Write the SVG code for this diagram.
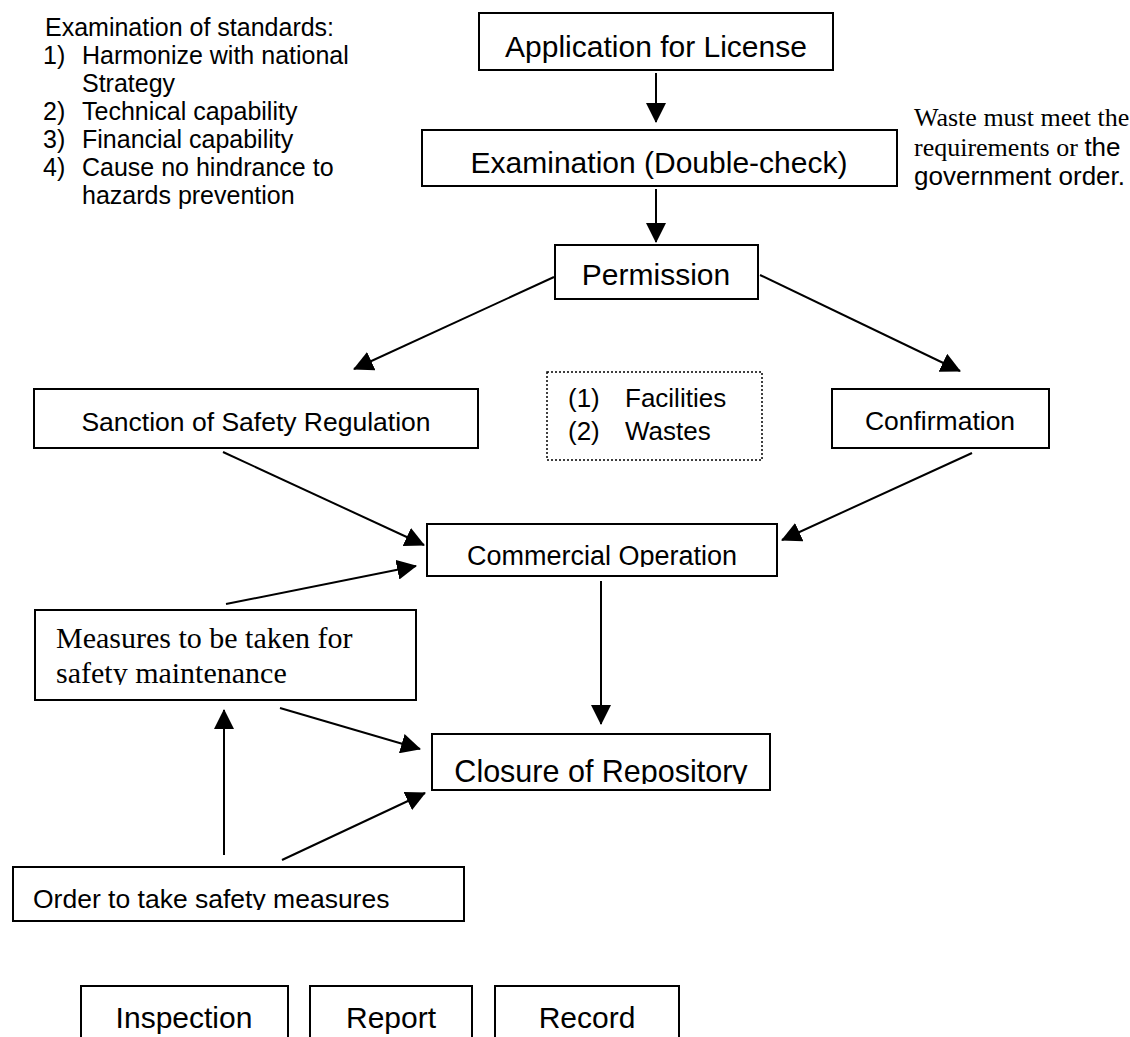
<svg xmlns="http://www.w3.org/2000/svg" width="1130" height="1037" viewBox="0 0 1130 1037">
<style>
.box{fill:#fff;stroke:#000;stroke-width:2}
.dot{fill:#fff;stroke:#000;stroke-width:1.5;stroke-dasharray:2 2}
.t{font-family:"Liberation Sans",Arial,sans-serif;fill:#000}
.s{font-family:"Liberation Serif","Times New Roman",serif;fill:#000}
.ln{stroke:#000;stroke-width:2;fill:none;marker-end:url(#ah)}
</style>
<defs>
<marker id="ah" markerUnits="userSpaceOnUse" markerWidth="20" markerHeight="20" refX="19" refY="10" orient="auto"><path d="M0,0 L20,10 L0,20 z" fill="#000"/></marker>
<clipPath id="cComm"><rect x="427" y="524" width="350" height="43"/></clipPath>
<clipPath id="cMeas"><rect x="35" y="610" width="381" height="75"/></clipPath>
<clipPath id="cClos"><rect x="432" y="734" width="338" height="50"/></clipPath>
<clipPath id="cOrd"><rect x="13" y="867" width="451" height="43"/></clipPath>
</defs>

<g id="standards">
<text class="t" font-size="25" x="45" y="36">Examination of standards:</text>
<text class="t" font-size="25" x="43" y="64">1)</text><text class="t" font-size="25" x="82" y="64">Harmonize with national</text>
<text class="t" font-size="25" x="82" y="92">Strategy</text>
<text class="t" font-size="25" x="43" y="120">2)</text><text class="t" font-size="25" x="82" y="120">Technical capability</text>
<text class="t" font-size="25" x="43" y="148">3)</text><text class="t" font-size="25" x="82" y="148">Financial capability</text>
<text class="t" font-size="25" x="43" y="176">4)</text><text class="t" font-size="25" x="82" y="176">Cause no hindrance to</text>
<text class="t" font-size="25" x="82" y="204">hazards prevention</text>
</g>

<g id="waste-note">
<text class="s" font-size="26" x="914" y="126">Waste must meet the</text>
<text x="914" y="156" font-size="26"><tspan class="s">requirements or </tspan><tspan class="t">the</tspan></text>
<text class="t" font-size="26" x="914" y="185">government order.</text>
</g>

<g id="application"><rect class="box" x="479" y="13" width="354" height="57"/><text class="t" font-size="30" x="656" y="57" text-anchor="middle">Application for License</text></g>
<g id="examination"><rect class="box" x="422" y="130" width="475" height="56"/><text class="t" font-size="30" x="659" y="173" text-anchor="middle">Examination (Double-check)</text></g>
<g id="permission"><rect class="box" x="555" y="245" width="203" height="54"/><text class="t" font-size="30" x="656" y="285" text-anchor="middle">Permission</text></g>
<g id="sanction"><rect class="box" x="34" y="389" width="444" height="59"/><text class="t" font-size="26.5" x="256" y="431" text-anchor="middle">Sanction of Safety Regulation</text></g>
<g id="items"><rect class="dot" x="547" y="372" width="215" height="88"/><text class="t" font-size="26" x="568" y="407">(1)</text><text class="t" font-size="26" x="625" y="407">Facilities</text><text class="t" font-size="26" x="568" y="440">(2)</text><text class="t" font-size="26" x="625" y="440">Wastes</text></g>
<g id="confirmation"><rect class="box" x="832" y="389" width="217" height="59"/><text class="t" font-size="26.5" x="940" y="430" text-anchor="middle">Confirmation</text></g>
<g id="commercial"><rect class="box" x="427" y="524" width="350" height="52"/><text class="t" font-size="27" x="602" y="565" text-anchor="middle" clip-path="url(#cComm)">Commercial Operation</text></g>
<g id="measures"><rect class="box" x="35" y="610" width="381" height="90"/><g clip-path="url(#cMeas)"><text class="s" font-size="30" x="56" y="648">Measures to be taken for</text><text class="s" font-size="30" x="56" y="683">safety maintenance</text></g></g>
<g id="closure"><rect class="box" x="432" y="734" width="338" height="56"/><text class="t" font-size="30.5" x="601" y="782" text-anchor="middle" clip-path="url(#cClos)">Closure of Repository</text></g>
<g id="order"><rect class="box" x="13" y="867" width="451" height="54"/><text class="t" font-size="26.5" x="33" y="908" clip-path="url(#cOrd)">Order to take safety measures</text></g>
<g id="inspection"><rect class="box" x="81" y="986" width="207" height="70"/><text class="t" font-size="30" x="184" y="1028" text-anchor="middle">Inspection</text></g>
<g id="report"><rect class="box" x="310" y="986" width="162" height="70"/><text class="t" font-size="30" x="391" y="1028" text-anchor="middle">Report</text></g>
<g id="record"><rect class="box" x="495" y="986" width="184" height="70"/><text class="t" font-size="30" x="587" y="1028" text-anchor="middle">Record</text></g>

<g id="connectors">
<line class="ln" x1="656" y1="73" x2="656" y2="122"/>
<line class="ln" x1="656" y1="189" x2="656" y2="242"/>
<line class="ln" x1="554" y1="277" x2="354" y2="369"/>
<line class="ln" x1="760" y1="275" x2="960" y2="371"/>
<line class="ln" x1="223" y1="452" x2="424" y2="545"/>
<line class="ln" x1="972" y1="453" x2="782" y2="540"/>
<line class="ln" x1="226" y1="604" x2="416" y2="566"/>
<line class="ln" x1="601" y1="581" x2="601" y2="724"/>
<line class="ln" x1="280" y1="708" x2="420" y2="749"/>
<line class="ln" x1="224" y1="855" x2="224" y2="710"/>
<line class="ln" x1="282" y1="860" x2="425" y2="793"/>
</g>
</svg>
